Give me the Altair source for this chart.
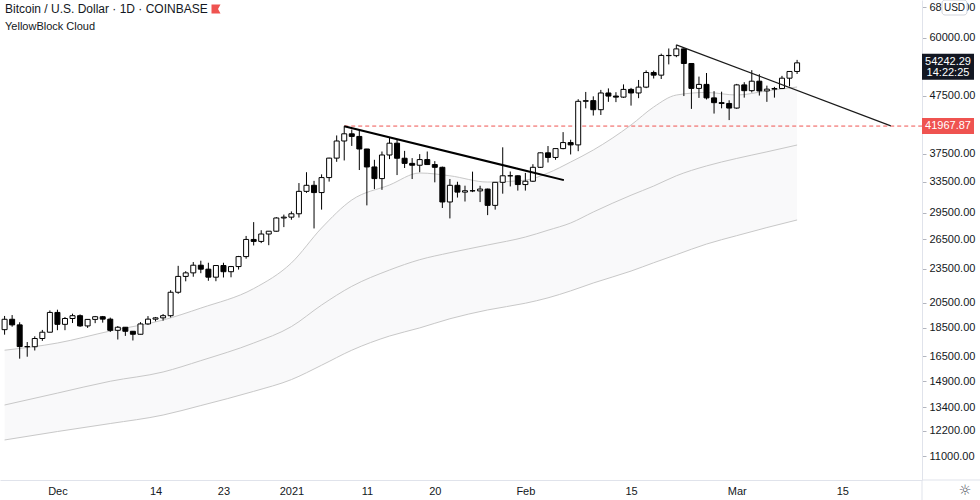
import altair as alt
import pandas as pd

# ---------------- data ----------------
dates = [d.strftime("%Y-%m-%d") for d in pd.date_range("2020-11-24", "2021-03-09", freq="D")]
opens = [18370, 19160, 18730, 17150, 17140, 17720, 18180,
         19700, 18770, 19220, 19440, 18650, 19150, 19360, 19170, 18320, 18550, 18250, 18030, 18800, 19170,
         19270, 19440, 21380, 22800, 23130, 23860, 23480, 22730, 23830, 23240, 23730, 24710, 26490, 26280,
         27080, 27390, 28900,
         29000, 29400, 32200, 33000, 32040, 34050, 36850, 39500, 40670, 40240, 38240, 35550, 33910, 37320,
         39150, 36830, 36070, 35800, 36630, 35900, 35500, 30840, 33000, 32100, 32280, 32260, 32500, 30420,
         33400, 34300, 34300,
         33100, 33550, 35500, 37650, 36950, 38300, 39250, 38880, 46400, 46530, 44850, 48000, 47400, 47200,
         48700, 48000, 49150, 52150, 51600, 55900, 55850, 57400, 54100, 48900, 49700, 47050, 46150, 46000,
         45150, 49600, 48450, 50350, 48400, 48750, 48880, 50970, 52380]
highs = [19420, 19490, 18930, 17470, 17880, 18350, 19860,
         19920, 19340, 19600, 19540, 19170, 19420, 19420, 19290, 18640, 18560, 18270, 18940, 19410, 19340,
         19570, 21560, 23800, 23290, 24170, 24300, 24100, 23840, 24100, 23790, 24780, 26870, 28420, 27500,
         27400, 29000, 29300,
         29680, 33300, 34800, 33600, 34500, 36900, 40400, 41950, 41380, 41350, 38260, 36600, 37850, 40100,
         39700, 37950, 36850, 37450, 37850, 36400, 35600, 33850, 33480, 32950, 34880, 32940, 32560, 31900,
         38500, 34900, 34350,
         34700, 35950, 37700, 38700, 38300, 40950, 39700, 46800, 48200, 47350, 48600, 48900, 48150, 49700,
         49000, 50600, 52600, 52550, 56300, 57500, 58350, 57500, 54200, 51300, 52050, 48350, 48250, 46600,
         49800, 50150, 52650, 51800, 49450, 49200, 51450, 52450, 54900]
lows = [18000, 18590, 16330, 16460, 16880, 17550, 18180,
        18330, 18330, 18870, 18580, 18500, 18860, 18900, 18200, 17650, 17910, 17580, 18020, 18730, 19000,
        19050, 19300, 21250, 22350, 22770, 23100, 22400, 22360, 22700, 22720, 23440, 24500, 25850, 26100,
        25880, 27330, 27850,
        28700, 28950, 32000, 27700, 29900, 33500, 36300, 36500, 38720, 35110, 30420, 32500, 32400, 36700,
        34400, 35400, 33850, 34800, 35900, 33400, 30100, 28850, 31400, 30900, 32100, 30830, 29240, 29900,
        31900, 32850, 32300,
        32300, 33450, 35400, 36200, 36600, 38200, 37400, 37900, 45100, 43800, 43900, 46300, 46250, 47050,
        45600, 47000, 48950, 50900, 50800, 53900, 55500, 47400, 45000, 47050, 46750, 44150, 45100, 43000,
        45000, 47100, 48100, 47500, 46300, 47100, 48880, 49300, 51850]
closes = [19160, 18730, 17150, 17140, 17720, 18180, 19700,
          18770, 19220, 19440, 18650, 19150, 19360, 19170, 18320, 18550, 18250, 18030, 18800, 19170, 19270,
          19440, 21380, 22800, 23130, 23860, 23480, 22730, 23830, 23240, 23730, 24710, 26490, 26280, 27080,
          27390, 28900, 29000,
          29400, 32200, 33000, 32040, 34050, 36850, 39500, 40670, 40240, 38240, 35550, 33910, 37320, 39150,
          36830, 36070, 35800, 36630, 35900, 35500, 30840, 33000, 32100, 32280, 32260, 32500, 30420, 33400,
          34300, 34300, 33100,
          33550, 35500, 37650, 36950, 38300, 39250, 38880, 46400, 46530, 44850, 48000, 47400, 47200, 48700,
          48000, 49150, 52150, 51600, 55900, 55850, 57400, 54100, 48900, 49700, 47050, 46150, 46000, 45150,
          49600, 48450, 50350, 48400, 48750, 48880, 50970, 52380, 54242.29]

cloud_dates = ["2020-11-24", "2020-12-01", "2020-12-08", "2020-12-15", "2020-12-20", "2020-12-27",
               "2021-01-01", "2021-01-05", "2021-01-09", "2021-01-14", "2021-01-18", "2021-01-22",
               "2021-01-27", "2021-02-01", "2021-02-04", "2021-02-07", "2021-02-10", "2021-02-15",
               "2021-02-18", "2021-02-21", "2021-02-25", "2021-03-01", "2021-03-05", "2021-03-09"]
cloud_upper = [16900, 17400, 18270, 19100, 20050, 21700, 24080, 27750, 31090, 33040, 34690, 34300,
               33440, 33700, 34690, 36270, 38080, 42150, 45340, 47600, 48100, 47600, 48400, 49180]
cloud_mid = [13530, 14200, 14900, 15470, 16200, 17400, 18600, 20300, 21900, 23400, 24400, 25100,
             25900, 26750, 27500, 28320, 29610, 31700, 32900, 34300, 35700, 36800, 37800, 38860]
cloud_lower = [11740, 12150, 12550, 12990, 13500, 14300, 15000, 15900, 16900, 17900, 18500, 19200,
               19900, 20450, 20900, 21500, 22200, 23300, 24100, 24900, 26000, 26900, 27800, 28670]

trend1_dates = ["2021-01-08", "2021-02-06T02:30:00"]
trend1_prices = [41950, 33700]
trend2_dates = ["2021-02-21", "2021-03-21T10:00:00"]
trend2_prices = [58350, 42000]

resistance_date = "2021-01-08"
resistance_price = 41967.87
last_price = 54242.29
countdown = "14:22:25"

x_tick_dates = ["2020-12-01", "2020-12-14", "2020-12-23", "2021-01-01", "2021-01-11",
                "2021-01-20", "2021-02-01", "2021-02-15", "2021-03-01", "2021-03-15"]
y_tick_values = [11000, 12200, 13400, 14900, 16500, 18500, 20500, 23500, 26500,
                 29500, 33500, 37500, 47500, 60000, 68000]

title_text = "Bitcoin / U.S. Dollar · 1D · COINBASE"
subtitle_text = "YellowBlock Cloud"

# ---------------- chart ----------------
W, H = 922, 480
FONT = "Liberation Sans"
TXT = "#131722"

candles = pd.DataFrame({"date": dates, "open": opens, "high": highs, "low": lows, "close": closes})
cloud = pd.DataFrame({"date": cloud_dates, "upper": cloud_upper, "mid": cloud_mid, "lower": cloud_lower})
t1 = pd.DataFrame({"date": trend1_dates, "price": trend1_prices})
t2 = pd.DataFrame({"date": trend2_dates, "price": trend2_prices})

def ms(s):
    return int(pd.Timestamp(s, tz="UTC").value // 10**6)

xscale = alt.Scale(type="utc", domain=[ms("2020-11-24T01:18:00"), ms("2021-03-24T21:20:00")])
yscale = alt.Scale(type="log", domain=[9980, 70000], nice=False, zero=False)

label_expr = ("utcdate(datum.value) == 1 ? (utcmonth(datum.value) == 0 ? utcFormat(datum.value, '%Y') "
              ": utcFormat(datum.value, '%b')) : utcFormat(datum.value, '%d')")

xaxis = alt.Axis(values=[ms(d) for d in x_tick_dates], labelExpr=label_expr, title=None, grid=False,
                 ticks=False, labelPadding=5, labelFontSize=11, labelFont=FONT, labelColor=TXT,
                 domainColor="#e0e3eb", labelFlush=False)
yaxis = alt.Axis(orient="right", values=y_tick_values, format=".2f", title=None, grid=False,
                 tickSize=4, tickColor="#b2b5be", labelPadding=3, labelFontSize=11, labelFont=FONT,
                 labelColor=TXT, domainColor="#e0e3eb", labelFlush=False, labelOverlap=False)

X = alt.X("date:T", scale=xscale, axis=xaxis)

fill = alt.Chart(cloud).mark_area(color="#f9f9fa", interpolate="monotone", clip=True).encode(
    x=X, y=alt.Y("upper:Q", scale=yscale, axis=yaxis), y2="lower:Q")

def cloud_line(field):
    return alt.Chart(cloud).mark_line(color="#c8c8c8", strokeWidth=1, interpolate="monotone",
                                      clip=True).encode(x=alt.X("date:T"), y=alt.Y(f"{field}:Q"))

res_line = alt.Chart(pd.DataFrame({"d": [resistance_date], "p": [resistance_price]})).mark_rule(
    color="#ef5350", strokeDash=[4, 3], strokeWidth=1).encode(
    x=alt.X("d:T"), x2=alt.value(W), y=alt.Y("p:Q"))

wicks = alt.Chart(candles).mark_rule(color="#000000", strokeWidth=1, clip=True).encode(
    x=alt.X("date:T"), y=alt.Y("low:Q"), y2="high:Q")

bodies = alt.Chart(candles).mark_bar(width=5, stroke="#000000", strokeWidth=1, clip=True).encode(
    x=alt.X("date:T"), y=alt.Y("open:Q"), y2="close:Q",
    fill=alt.condition("datum.close >= datum.open", alt.value("#ffffff"), alt.value("#000000")))

trend1 = alt.Chart(t1).mark_line(color="#000000", strokeWidth=2).encode(
    x=alt.X("date:T"), y=alt.Y("price:Q"))
trend2 = alt.Chart(t2).mark_line(color="#1a1a1a", strokeWidth=1.2).encode(
    x=alt.X("date:T"), y=alt.Y("price:Q"))

one = pd.DataFrame({"a": [0]})

def box(price, color, half_h, y_off, width=52):
    r = width / 2
    hh = half_h / r
    path = f"M-1,-{hh:.4f}L1,-{hh:.4f}L1,{hh:.4f}L-1,{hh:.4f}Z"
    return alt.Chart(one).mark_point(shape=path, size=(2 * r) ** 2, filled=True, opacity=1,
                                     color=color, strokeWidth=0, yOffset=y_off).encode(
        x=alt.value(W + 26), y=alt.datum(price))

def label(price, txt, y_off, color="#ffffff"):
    return alt.Chart(one).mark_text(font=FONT, fontSize=11, color=color, align="center",
                                    baseline="middle", yOffset=y_off).encode(
        x=alt.value(W + 26), y=alt.datum(price), text=alt.value(txt))

res_box = box(resistance_price, "#ef5350", 8, 0)
res_lbl = label(resistance_price, f"{resistance_price:.2f}", 0)
last_box = box(last_price, "#131722", 13, 4)
last_lbl = label(last_price, f"{last_price:.2f}", -1)
cd_lbl = label(last_price, countdown, 10)

usd_box = alt.Chart(one).mark_rect(fill="#ffffff", stroke="#d1d4dc", strokeWidth=1, cornerRadius=3).encode(
    x=alt.value(W + 20), x2=alt.value(W + 45), y=alt.value(0), y2=alt.value(15))
usd_lbl = alt.Chart(one).mark_text(font=FONT, fontSize=10, color=TXT, align="center", baseline="middle").encode(
    x=alt.value(W + 32.5), y=alt.value(8), text=alt.value("USD"))

title = alt.Chart(one).mark_text(font=FONT, fontSize=12, color=TXT, align="left", baseline="middle").encode(
    x=alt.value(5), y=alt.value(9), text=alt.value(title_text))
flag = alt.Chart(one).mark_point(shape="M-1,-1L1,-1L0.45,0L1,1L-1,1Z", size=81, filled=True, opacity=1,
                                 color="#ef5350", strokeWidth=0).encode(x=alt.value(216), y=alt.value(9))
subtitle = alt.Chart(one).mark_text(font=FONT, fontSize=11, color=TXT, align="left", baseline="middle").encode(
    x=alt.value(5), y=alt.value(27), text=alt.value(subtitle_text))

bottom_ext = alt.Chart(one).mark_rule(color="#e0e3eb", strokeWidth=1).encode(
    x=alt.value(W), x2=alt.value(980), y=alt.value(H))
vert_ext = alt.Chart(one).mark_rule(color="#e0e3eb", strokeWidth=1).encode(
    x=alt.value(W), y=alt.value(H), y2=alt.value(500))
gear = alt.Chart(one).mark_text(font="DejaVu Sans", fontSize=14, color="#50535e", align="center",
                                baseline="middle").encode(x=alt.value(W + 43), y=alt.value(H + 11),
                                                          text=alt.value("☼"))

chart = alt.layer(
    fill, cloud_line("upper"), cloud_line("mid"), cloud_line("lower"),
    res_line, wicks, bodies, trend1, trend2,
    res_box, res_lbl, last_box, last_lbl, cd_lbl, usd_box, usd_lbl,
    title, flag, subtitle, bottom_ext, vert_ext, gear,
).properties(
    width=W, height=H,
    autosize=alt.AutoSizeParams(type="none"),
    padding={"left": 0, "top": 0, "right": 980 - W, "bottom": 500 - H},
    background="#ffffff",
).configure_view(stroke=None)

chart.save("out.html", embed_options={"renderer": "svg", "actions": False})
